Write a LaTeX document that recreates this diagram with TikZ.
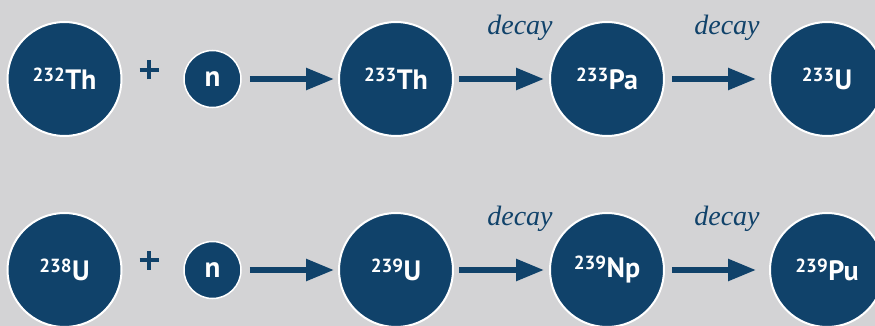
\documentclass[tikz,border=0pt]{standalone}
\usepackage{fontspec}
\setmainfont{PT Sans}
\newfontfamily\decayfont{Liberation Serif}
\usetikzlibrary{arrows.meta}
\definecolor{navy}{HTML}{10426A}
\definecolor{bggray}{HTML}{D3D3D5}
\newcommand{\iso}[2]{\raisebox{8pt}{\fontsize{19}{19}\selectfont\bfseries #1}\kern0.5pt{\fontsize{28}{28}\selectfont\bfseries #2}}
\tikzset{
  nucleus/.style={circle, fill=navy, draw=white, line width=2pt, minimum size=114pt, inner sep=0pt, text=white},
  neutron/.style={circle, fill=navy, draw=white, line width=1.5pt, minimum size=57pt, inner sep=0pt, text=white, font=\fontsize{29}{29}\selectfont\bfseries},
  plusnode/.style={inner sep=0pt},
  arr/.style={draw=navy, line width=5.5pt, -{Triangle[length=28pt,width=21pt]}},
  decaylbl/.style={text=navy, font=\fontsize{28}{28}\decayfont\itshape, inner sep=0pt, anchor=base}
}
\newcommand{\plussign}{\tikz[baseline]{\draw[navy, line width=3.5pt] (-9.5pt,0) -- (9.5pt,0) (0,-9.5pt) -- (0,9.5pt);}}
\begin{document}
\begin{tikzpicture}[x=1pt,y=-1pt]
\fill[bggray] (0,0) rectangle (875,326);
\useasboundingbox (0,0) rectangle (875,326);
% top row
\node[nucleus] (a1) at (64.5,79) {\iso{232}{Th}};
\node[plusnode] (p1) at (149,70) {\plussign};
\node[neutron] (n1) at (212.5,79) {n};
\node[nucleus] (a2) at (396,79) {\iso{233}{Th}};
\node[nucleus] (a3) at (607,79) {\iso{233}{Pa}};
\node[nucleus] (a4) at (827,79) {\iso{233}{U}};
\draw[arr, shorten <=8pt, shorten >=4pt] (n1.east) -- (a2.west);
\draw[arr, shorten <=5pt, shorten >=5pt] (a2.east) -- (a3.west);
\draw[arr, shorten <=7pt, shorten >=13pt] (a3.east) -- (a4.west);
\node[decaylbl] (d1) at (520,35) {decay};
\node[decaylbl] (d2) at (727,35) {decay};
% bottom row
\node[nucleus] (b1) at (64.5,270) {\iso{238}{U}};
\node[plusnode] (p2) at (149,260) {\plussign};
\node[neutron] (n2) at (212.5,270) {n};
\node[nucleus] (b2) at (396,270) {\iso{239}{U}};
\node[nucleus] (b3) at (607,270) {\iso{239}{Np}};
\node[nucleus] (b4) at (827,270) {\iso{239}{Pu}};
\draw[arr, shorten <=8pt, shorten >=4pt] (n2.east) -- (b2.west);
\draw[arr, shorten <=5pt, shorten >=5pt] (b2.east) -- (b3.west);
\draw[arr, shorten <=7pt, shorten >=13pt] (b3.east) -- (b4.west);
\node[decaylbl] (e1) at (520,225) {decay};
\node[decaylbl] (e2) at (727,225) {decay};
\end{tikzpicture}
\end{document}
